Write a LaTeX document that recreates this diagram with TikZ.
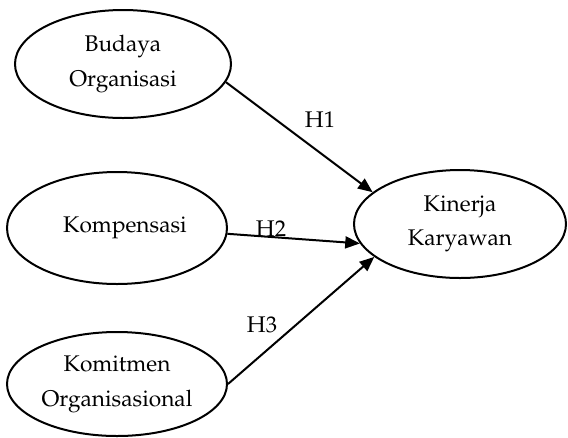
\documentclass[tikz,border=0pt]{standalone}
\usepackage[T1]{fontenc}
\usepackage{mathpazo}
\usetikzlibrary{shapes.geometric,arrows.meta}
\begin{document}
\begin{tikzpicture}[x=0.75pt,y=-0.75pt,
  oval/.style={ellipse,draw,line width=1.5pt,inner sep=0pt,align=center,
    font=\fontsize{17}{26}\selectfont},
  link/.style={line width=1.5pt,-{Triangle[length=11pt,width=9pt]}},
  hlab/.style={font=\fontsize{17}{20}\selectfont}]
\useasboundingbox (0,0) rectangle (568,437);
\node[oval,minimum width=216pt*0.75,minimum height=108pt*0.75] (bo) at (123,64) {Budaya\\Organisasi};
\node[oval,minimum width=220pt*0.75,minimum height=112pt*0.75] (ko) at (117,228) {\hspace*{12pt}Kompensasi};
\node[oval,minimum width=220pt*0.75,minimum height=104pt*0.75] (km) at (117,384) {Komitmen\\Organisasional};
\node[oval,minimum width=212pt*0.75,minimum height=108pt*0.75] (kk) at (460,224) {Kinerja\\Karyawan};
\draw[link] (bo.-10) -- (kk.160);
\draw[link] (ko.-3) -- (kk.-169);
\draw[link] (km.0) -- (kk.-159);
\node[hlab] (h1) at (320,120) {H1};
\node[hlab] (h2) at (271,229) {H2};
\node[hlab] (h3) at (262,325) {H3};
\end{tikzpicture}
\end{document}
